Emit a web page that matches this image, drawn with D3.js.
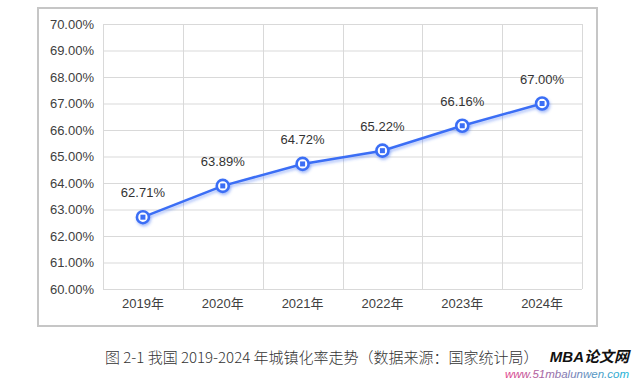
<!DOCTYPE html>
<html><head><meta charset="utf-8">
<script src="https://cdn.jsdelivr.net/npm/d3@7"></script>
<style>body{margin:0;background:#fff;}svg{display:block;}</style>
</head><body>
<svg id="c" width="634" height="381"></svg>
<script>
const categories = ["2019年","2020年","2021年","2022年","2023年","2024年"];
const rates = [62.71, 63.89, 64.72, 65.22, 66.16, 67.00];
const yTicks = [60,61,62,63,64,65,66,67,68,69,70];

const svg = d3.select("#c");
const m = {l:103, t:24, r:582, b:289};
const x = d3.scaleBand().domain(categories).range([m.l, m.r]);
const y = d3.scaleLinear().domain([60,70]).range([m.b, m.t]);

const defs = svg.append("defs");
const f = defs.append("filter").attr("id","sh").attr("x","-50%").attr("y","-50%").attr("width","200%").attr("height","200%");
f.append("feDropShadow").attr("dx",1).attr("dy",2).attr("stdDeviation",1.5).attr("flood-color","#3b6cf2").attr("flood-opacity",0.45);
const g2 = defs.append("linearGradient").attr("id","wg");
g2.append("stop").attr("offset","0%").attr("stop-color","#e0408a");
g2.append("stop").attr("offset","100%").attr("stop-color","#22b5d8");

// frame
svg.append("rect").attr("x",38).attr("y",8).attr("width",559).attr("height",318)
  .attr("fill","#fff").attr("stroke","#c6c6c6").attr("stroke-width",2);

// grid
svg.append("g").selectAll("line").data(yTicks).join("line")
  .attr("x1",m.l).attr("x2",m.r).attr("y1",d=>y(d)+0.5).attr("y2",d=>y(d)+0.5)
  .attr("stroke","#d9d9d9").attr("stroke-width",1);
const bounds = categories.map(c=>x(c)).concat([m.r]);
svg.append("g").selectAll("line").data(bounds).join("line")
  .attr("x1",d=>Math.round(d)+0.5).attr("x2",d=>Math.round(d)+0.5).attr("y1",m.t).attr("y2",m.b)
  .attr("stroke","#d9d9d9").attr("stroke-width",1);

const font = "Arial, 'Liberation Sans', 'Noto Sans CJK SC', sans-serif";
// y axis
const ya = svg.append("g").attr("transform",`translate(${m.l},0)`)
  .call(d3.axisLeft(y).tickValues(yTicks).tickFormat(d=>d.toFixed(2)+"%").tickSize(0).tickPadding(9));
ya.select(".domain").remove();
ya.selectAll("text").attr("font-family",font).attr("font-size",13).attr("fill","#404040");
// x axis
const xa = svg.append("g").attr("transform",`translate(0,${m.b})`)
  .call(d3.axisBottom(x).tickSize(0).tickPadding(10));
xa.select(".domain").remove();
xa.selectAll("text").attr("font-family",font).attr("font-size",13).attr("fill","#404040");

// line
const cx = c=>x(c)+x.bandwidth()/2;
const line = d3.line().x((d,i)=>cx(categories[i])).y(d=>y(d));
svg.append("path").datum(rates).attr("d",line).attr("fill","none")
  .attr("stroke","#3b6ef5").attr("stroke-width",2.5).attr("filter","url(#sh)");

const pts = svg.append("g").selectAll("g").data(rates).join("g")
  .attr("transform",(d,i)=>`translate(${cx(categories[i])},${y(d)})`);
pts.append("circle").attr("r",6).attr("fill","#fff").attr("stroke","#3b6ef5").attr("stroke-width",2.6).attr("filter","url(#sh)");
pts.append("rect").attr("x",-2.5).attr("y",-2.5).attr("width",5).attr("height",5).attr("fill","#3b6ef5");

svg.append("g").selectAll("text").data(rates).join("text")
  .attr("x",(d,i)=>cx(categories[i])).attr("y",d=>y(d)-20)
  .attr("text-anchor","middle").attr("font-family",font).attr("font-size",13).attr("fill","#333")
  .text(d=>d.toFixed(2)+"%");

// caption
svg.append("text").attr("x",105).attr("y",363).attr("font-family","'Noto Sans CJK SC', sans-serif")
  .attr("font-size",15).attr("fill","#333").attr("font-weight",300)
  .text("图 2-1 我国 2019-2024 年城镇化率走势（数据来源：国家统计局）");
svg.append("text").attr("x",629).attr("y",362).attr("text-anchor","end")
  .attr("font-family","Arial, 'Noto Sans CJK SC', sans-serif").attr("font-size",15).attr("font-weight",700)
  .attr("font-style","italic").attr("fill","#111").text("MBA论文网");
svg.append("text").attr("x",629).attr("y",378).attr("text-anchor","end")
  .attr("font-family","Arial, sans-serif").attr("font-size",11.5).attr("font-style","italic")
  .attr("fill","url(#wg)").text("www.51mbalunwen.com");
</script>
</body></html>
